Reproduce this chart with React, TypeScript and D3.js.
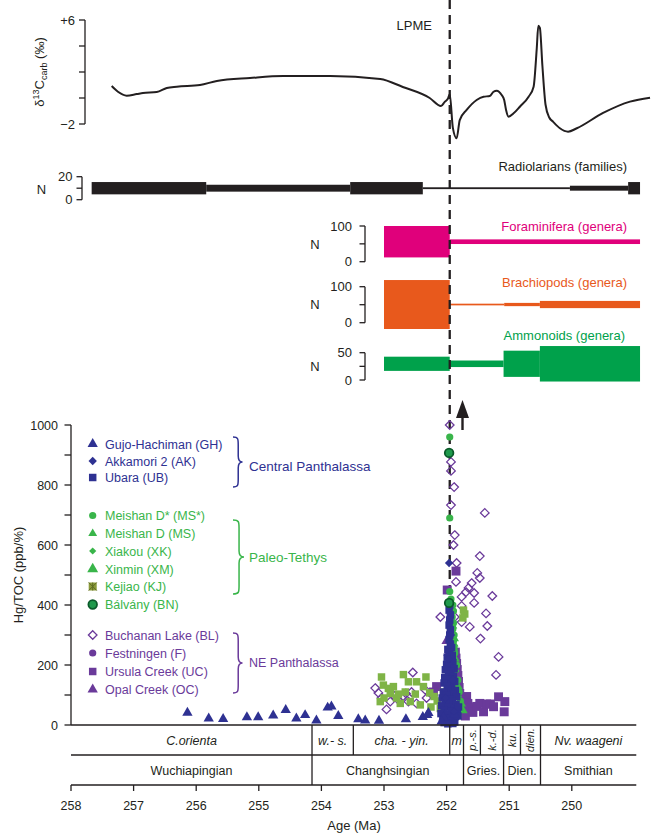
import React from 'react';
import * as d3 from 'd3';

const FONT = "'Liberation Sans', Arial, Helvetica, sans-serif";
const INK = '#231f20';
const BLUE = '#2e3192';
const GREEN = '#39b54a';
const PURPLE = '#6a3a9a';
const KJCOL = '#7fb446';
const MAGENTA = '#e0007b';
const ORANGE = '#e8591c';
const AMMON = '#00a14b';

// ---------- top δ13C curve [age, value]
const d13c: [number, number][] = [
  [257.35, 0.92], [257.25, 0.48], [257.11, 0.18], [256.95, 0.3], [256.85, 0.38], [256.63, 0.46], [256.47, 0.77],
  [256.31, 0.87], [255.94, 1.0], [255.67, 1.31], [255.14, 1.54], [254.61, 1.69], [253.86, 1.69], [253.06, 1.46],
  [252.7, 0.85], [252.27, 0.0], [252.09, -0.62], [252.03, -0.3], [251.98, -0.05], [251.95, 0.28], [251.9, -2.3],
  [251.84, -3.1], [251.79, -1.7], [251.68, -0.92], [251.52, -0.15], [251.41, 0.1], [251.31, 0.15], [251.25, 0.48],
  [251.2, 0.56], [251.12, 0.23], [251.08, -0.15], [251.05, -0.92], [251.01, -1.44], [250.93, -1.18], [250.83, -0.67],
  [250.69, 0.1], [250.61, 0.87], [250.56, 3.8], [250.535, 5.55], [250.51, 5.4], [250.47, 2.5], [250.42, -0.5],
  [250.36, -1.5], [250.3, -1.82], [250.19, -2.33], [250.06, -2.59], [249.92, -2.33], [249.5, -1.15], [249.07, -0.28],
  [248.75, 0.02],
];
const d13cTicks = [6, 4, 2, 0, -2];

// ---------- spindle diagrams: boundaries (Ma) and N per segment
const radBounds = [257.67, 255.84, 253.54, 252.38, 250.03, 249.1, 248.91];
const radN = [10.7, 6, 10.7, 1.6, 4.3, 10.7];
const foramBounds = [253.0, 251.95, 248.91];
const foramN = [88, 13];
const brachBounds = [253.0, 251.95, 251.08, 250.51, 248.91];
const brachN = [136, 4.7, 9, 20];
const ammonBounds = [253.0, 251.95, 251.09, 250.51, 248.91];
const ammonN = [26, 12, 48, 65];

// ---------- chronostratigraphy
const zoneNames = ['C.orienta', 'w.- s.', 'cha. - yin.', 'm', 'p.-s.', 'k.-d.', 'ku.', 'dien.', 'Nv. waageni'];
const zoneBounds = [258, 254.15, 253.49, 251.95, 251.73, 251.46, 251.1, 250.82, 250.5, 248.97];
const zoneVertical = [false, false, false, false, true, true, true, true, false];
const stageNames = ['Wuchiapingian', 'Changhsingian', 'Gries.', 'Dien.', 'Smithian'];
const stageBounds = [258, 254.15, 251.73, 251.09, 250.5, 248.97];
const ageTicks = [258, 257, 256, 255, 254, 253, 252, 251, 250];
const hgTicks = [0, 100, 200, 300, 400, 500, 600, 700, 800, 900, 1000];

// ---------- Hg/TOC data [age, value]
const GH: [number, number][] = [
  [256.14, 41], [255.8, 22], [255.57, 20], [255.19, 26], [255.01, 26], [254.77, 32], [254.57, 50], [254.4, 22],
  [254.26, 33], [254.08, 15], [253.9, 58], [253.84, 62], [253.73, 30], [253.41, 19], [253.3, 15], [253.08, 14],
  [252.65, 19], [252.38, 27], [252.31, 33], [252.29, 40], [252.05, 25], [251.87, 35], [252.08, 12],
];
const AK: [number, number][] = [[251.96, 540], [251.93, 300], [251.97, 220], [251.9, 150], [252.02, 90], [251.88, 45]];
const UB: [number, number][] = [
  [251.95, 400], [251.96, 383], [251.94, 367], [251.95, 350], [251.96, 333], [251.94, 317], [251.95, 300],
  [251.96, 285], [251.94, 270], [251.92, 258], [251.98, 252], [251.95, 242], [251.91, 232], [251.99, 226],
  [251.94, 218], [251.9, 208], [252.0, 202], [251.96, 195], [251.88, 188], [252.02, 184], [251.93, 178],
  [251.97, 170], [251.89, 163], [252.03, 158], [251.95, 152], [251.87, 145], [252.04, 140], [251.92, 135],
  [251.99, 128], [251.95, 120], [251.86, 115], [252.05, 110], [251.9, 104], [252.0, 100], [251.84, 94],
  [252.07, 90], [251.95, 86], [251.91, 78], [252.02, 75], [251.85, 68], [252.08, 64], [251.97, 60], [251.88, 54],
  [252.04, 50], [251.93, 46], [251.83, 40], [252.09, 38], [251.99, 34], [251.86, 28], [251.92, 24], [252.01, 22],
  [252.06, 18], [251.95, 14], [251.87, 10], [252.04, 8], [251.9, 5], [251.98, 4], [251.81, 60], [251.82, 30],
];
const MSstar: [number, number][] = [
  [251.95, 960], [251.95, 690], [251.95, 445], [251.93, 420], [251.9, 400], [251.89, 380], [251.91, 360],
  [251.89, 340], [251.9, 320], [251.88, 300], [251.89, 280], [251.88, 260], [251.87, 240], [251.84, 200],
  [251.82, 150], [251.8, 110], [251.78, 80], [251.79, 50], [251.82, 30],
];
const MS: [number, number][] = [[251.9, 330], [251.88, 270], [251.86, 220], [251.76, 70]];
const XK: [number, number][] = [[251.87, 250], [251.85, 180], [251.81, 95]];
const XM: [number, number][] = [[251.89, 290], [251.83, 130], [251.75, 50]];
const KJ: [number, number][] = [
  [253.04, 160], [252.69, 168], [252.61, 144], [252.33, 160], [253.01, 133], [252.93, 122], [252.85, 128],
  [252.77, 103], [252.66, 110], [253.06, 78], [252.58, 78], [252.42, 67], [252.48, 144], [252.37, 128],
  [252.27, 107], [252.9, 105], [252.74, 72], [252.5, 103], [253.0, 90], [252.8, 90], [252.2, 95], [252.15, 80],
  [252.05, 110], [252.25, 60], [252.1, 55], [251.73, 383], [251.71, 370], [251.74, 357],
];
const BN: [number, number][] = [[251.96, 907], [251.96, 407]];
const BL: [number, number][] = [
  [251.95, 1000], [251.93, 877], [251.93, 847], [251.88, 793], [251.93, 733], [251.39, 707], [251.87, 633],
  [251.89, 600], [251.47, 563], [251.84, 540], [251.51, 507], [251.47, 490], [251.85, 477], [251.6, 473],
  [251.65, 457], [251.69, 443], [251.56, 440], [251.27, 430], [251.76, 427], [251.56, 407], [251.76, 397],
  [251.37, 372], [252.1, 360], [251.87, 360], [251.76, 343], [251.63, 327], [251.35, 330], [251.46, 288],
  [251.17, 227], [251.21, 167],
  [252.54, 175], [253.14, 123], [253.09, 107], [253.04, 90], [252.96, 52], [252.77, 83], [252.65, 105],
  [252.56, 110], [252.61, 78], [252.48, 72], [252.34, 117], [252.32, 90], [252.9, 78], [252.85, 100], [252.7, 95],
];
const F: [number, number][] = [[251.83, 160], [251.8, 120], [251.77, 95]];
const UC: [number, number][] = [
  [251.85, 513], [251.99, 450], [251.86, 243], [251.85, 223], [251.84, 205], [251.83, 185], [251.82, 165],
  [251.81, 145], [251.8, 125], [251.79, 105], [251.77, 85], [251.75, 65], [251.72, 45], [251.7, 30],
  [251.68, 95], [251.66, 72], [251.62, 58], [251.58, 42], [251.52, 62], [251.47, 72], [251.41, 44],
  [251.36, 70], [251.3, 70], [251.25, 61], [251.17, 94], [251.07, 78], [251.08, 44], [252.16, 128], [252.21, 110],
];
const OC: [number, number][] = [[252.0, 280], [251.97, 240]];

type Shape = 'tri' | 'triS' | 'triL' | 'dia' | 'diaS' | 'sq' | 'sqL' | 'circ' | 'open' | 'kj' | 'bn';

function diamond(r: number) {
  return `M0,${-r}L${r},0L0,${r}L${-r},0Z`;
}
const triPath = (s: number) => d3.symbol().type(d3.symbolTriangle).size(s)() as string;
const sqPath = (s: number) => d3.symbol().type(d3.symbolSquare).size(s)() as string;

function Marker({ shape, cx, cy, color }: { shape: Shape; cx: number; cy: number; color: string }) {
  const t = `translate(${cx},${cy})`;
  switch (shape) {
    case 'tri': return <path transform={t} d={triPath(46)} fill={color} />;
    case 'triS': return <path transform={t} d={triPath(34)} fill={color} />;
    case 'triL': return <path transform={t} d={triPath(52)} fill={color} />;
    case 'dia': return <path transform={t} d={diamond(4.2)} fill={color} />;
    case 'diaS': return <path transform={t} d={diamond(3.6)} fill={color} />;
    case 'sq': return <path transform={t} d={sqPath(56)} fill={color} />;
    case 'sqL': return <path transform={t} d={sqPath(80)} fill={color} />;
    case 'circ': return <circle cx={cx} cy={cy} r={3.6} fill={color} />;
    case 'open': return <path transform={t} d={diamond(4.3)} fill="none" stroke={color} strokeWidth={1.3} />;
    case 'kj': return (
      <g transform={t}>
        <rect x={-4} y={-4} width={8} height={8} fill="#8b9a3a" />
        <path d="M-4,-4L4,4M4,-4L-4,4M0,-4V4" stroke="#5d6b22" strokeWidth={1} />
      </g>
    );
    case 'bn': return <circle cx={cx} cy={cy} r={4.3} fill="#1f9a4c" stroke="#0b5a2a" strokeWidth={1.8} />;
  }
  return null;
}

const legendItems: { label: string; color: string; shape: Shape; y: number }[] = [
  { label: 'Gujo-Hachiman (GH)', color: BLUE, shape: 'tri', y: 444 },
  { label: 'Akkamori 2 (AK)', color: BLUE, shape: 'dia', y: 461 },
  { label: 'Ubara (UB)', color: BLUE, shape: 'sq', y: 477.5 },
  { label: 'Meishan D* (MS*)', color: GREEN, shape: 'circ', y: 515.5 },
  { label: 'Meishan D (MS)', color: GREEN, shape: 'triS', y: 533.5 },
  { label: 'Xiakou (XK)', color: GREEN, shape: 'diaS', y: 551 },
  { label: 'Xinmin (XM)', color: GREEN, shape: 'triL', y: 569 },
  { label: 'Kejiao (KJ)', color: GREEN, shape: 'kj', y: 586.5 },
  { label: 'Bálvány (BN)', color: GREEN, shape: 'bn', y: 604.5 },
  { label: 'Buchanan Lake (BL)', color: PURPLE, shape: 'open', y: 635 },
  { label: 'Festningen (F)', color: PURPLE, shape: 'circ', y: 653 },
  { label: 'Ursula Creek (UC)', color: PURPLE, shape: 'sq', y: 671.5 },
  { label: 'Opal Creek (OC)', color: PURPLE, shape: 'tri', y: 689.5 },
];

function brace(x: number, y0: number, y1: number, w: number) {
  const m = (y0 + y1) / 2;
  const xm = x + w * 0.55;
  return `M${x},${y0} C${xm},${y0} ${xm},${y0 + 2} ${xm},${y0 + 8} L${xm},${m - 6} C${xm},${m - 1} ${x + w * 0.75},${m} ${x + w},${m}` +
    ` C${x + w * 0.75},${m} ${xm},${m + 1} ${xm},${m + 6} L${xm},${y1 - 8} C${xm},${y1 - 2} ${xm},${y1} ${x},${y1}`;
}

export default function App() {
  const x = d3.scaleLinear().domain([258, 249]).range([71, 634.4]);
  const yC = d3.scaleLinear().domain([-2, 6]).range([124, 20]);
  const yHg = d3.scaleLinear().domain([0, 1000]).range([725, 425]);
  const yRad = d3.scaleLinear().domain([0, 20]).range([199.7, 176.7]);
  const yFor = d3.scaleLinear().domain([0, 100]).range([261.7, 226]);
  const yBra = d3.scaleLinear().domain([0, 100]).range([322.7, 286.7]);
  const yAmm = d3.scaleLinear().domain([0, 50]).range([380, 352.7]);

  const line = d3.line<[number, number]>().x(d => x(d[0])).y(d => yC(d[1])).curve(d3.curveMonotoneX);
  const lpmeX = x(251.95);
  const axisEnd = x(248.97);

  const spindle = (bounds: number[], ns: number[], ys: d3.ScaleLinear<number, number>, center: number, color: string) =>
    ns.map((n, i) => (
      <rect key={i} x={x(bounds[i])} width={x(bounds[i + 1]) - x(bounds[i])}
        y={ys(center + n / 2)} height={ys(center - n / 2) - ys(center + n / 2)} fill={color} />
    ));

  const smallAxis = (ax: number, ys: d3.ScaleLinear<number, number>, ticks: number[], labels: number[], labelX: number) => (
    <g>
      <line x1={ax} x2={ax} y1={ys(ticks[0])} y2={ys(ticks[ticks.length - 1])} stroke={INK} strokeWidth={1.3} />
      {ticks.map(t => <line key={t} x1={ax - 5.5} x2={ax} y1={ys(t)} y2={ys(t)} stroke={INK} strokeWidth={1.3} />)}
      {labels.map(t => <text key={t} x={labelX} y={ys(t) + 4.5} textAnchor="end" fontSize={13} fill={INK}>{t}</text>)}
    </g>
  );

  const pts = (data: [number, number][], shape: Shape, color: string, key: string) =>
    data.map((d, i) => <Marker key={key + i} shape={shape} cx={x(d[0])} cy={yHg(d[1])} color={color} />);

  return (
    <svg width={652} height={834} style={{ position: 'absolute', left: 0, top: 0, background: '#fff' }} fontFamily={FONT}>
      {/* δ13C panel */}
      <line x1={85} x2={85} y1={yC(6)} y2={yC(-2)} stroke={INK} strokeWidth={1.3} />
      {d13cTicks.map(t => <line key={t} x1={79} x2={85} y1={yC(t)} y2={yC(t)} stroke={INK} strokeWidth={1.3} />)}
      <text x={75} y={yC(6) + 4.5} textAnchor="end" fontSize={13} fill={INK}>+6</text>
      <text x={75} y={yC(-2) + 4.5} textAnchor="end" fontSize={13} fill={INK}>−2</text>
      <text transform="translate(44,72) rotate(-90)" textAnchor="middle" fontSize={13} fill={INK}>
        δ<tspan dy={-5} fontSize={9}>13</tspan><tspan dy={5}>C</tspan><tspan dy={3} fontSize={9}>carb</tspan><tspan dy={-3}> (‰)</tspan>
      </text>
      <path d={line(d13c) as string} fill="none" stroke={INK} strokeWidth={2} />
      <text x={432} y={30} textAnchor="end" fontSize={13} fill={INK}>LPME</text>

      {/* Radiolarians */}
      <text x={41.5} y={193.5} textAnchor="middle" fontSize={13} fill={INK}>N</text>
      {smallAxis(82, yRad, [0, 10, 20], [0, 20], 72.5)}
      {spindle(radBounds, radN, yRad, 10, INK)}
      <text x={627} y={171} textAnchor="end" fontSize={13} fill={INK}>Radiolarians (families)</text>

      {/* Foraminifera */}
      <text x={315} y={248.5} textAnchor="middle" fontSize={13} fill={INK}>N</text>
      {smallAxis(365, yFor, [0, 50, 100], [0, 100], 352)}
      {spindle(foramBounds, foramN, yFor, 56, MAGENTA)}
      <text x={627} y={230.5} textAnchor="end" fontSize={13} fill={MAGENTA}>Foraminifera (genera)</text>

      {/* Brachiopods */}
      <text x={315} y={308.5} textAnchor="middle" fontSize={13} fill={INK}>N</text>
      {smallAxis(365, yBra, [0, 50, 100], [0, 100], 352)}
      {spindle(brachBounds, brachN, yBra, 50.5, ORANGE)}
      <text x={627} y={287} textAnchor="end" fontSize={13} fill={ORANGE}>Brachiopods (genera)</text>

      {/* Ammonoids */}
      <text x={315} y={370.5} textAnchor="middle" fontSize={13} fill={INK}>N</text>
      {smallAxis(365, yAmm, [0, 25, 50], [0, 50], 352)}
      {spindle(ammonBounds, ammonN, yAmm, 29.7, AMMON)}
      <text x={625} y={339.5} textAnchor="end" fontSize={13} fill={AMMON}>Ammonoids (genera)</text>

      {/* LPME dashed line */}
      <line x1={lpmeX} x2={lpmeX} y1={0} y2={715} stroke={INK} strokeWidth={2.3} strokeDasharray="9,6" />
      {/* arrow */}
      <line x1={462.5} x2={462.5} y1={430} y2={412} stroke={INK} strokeWidth={2.4} />
      <path d="M462.5,400 L469,418 L456,418 Z" fill={INK} />

      {/* scatter axis */}
      <line x1={71} x2={71} y1={yHg(1000)} y2={yHg(0)} stroke={INK} strokeWidth={1.3} />
      {hgTicks.map(t => <line key={t} x1={64.5} x2={71} y1={yHg(t)} y2={yHg(t)} stroke={INK} strokeWidth={1.3} />)}
      {hgTicks.filter(t => t % 200 === 0).map(t => (
        <text key={t} x={58} y={yHg(t) + 4.5} textAnchor="end" fontSize={12.5} fill={INK}>{t}</text>
      ))}
      <text transform="translate(23,575) rotate(-90)" textAnchor="middle" fontSize={13} fill={INK}>Hg/TOC (ppb/%)</text>

      {/* legend */}
      {legendItems.map(it => (
        <g key={it.label}>
          <Marker shape={it.shape} cx={92.7} cy={it.y} color={it.color} />
          <text x={105} y={it.y + 4.5} fontSize={12.5} fill={it.color}>{it.label}</text>
        </g>
      ))}
      <path d={brace(233, 437, 487, 9.5)} fill="none" stroke={BLUE} strokeWidth={1.5} />
      <path d={brace(233, 520, 594, 11)} fill="none" stroke={GREEN} strokeWidth={1.5} />
      <path d={brace(233, 633, 693, 9.5)} fill="none" stroke={PURPLE} strokeWidth={1.5} />
      <text x={249} y={466 + 4.5} fontSize={13.5} fill={BLUE}>Central Panthalassa</text>
      <text x={249} y={557 + 4.5} fontSize={13.5} fill={GREEN}>Paleo-Tethys</text>
      <text x={249} y={662 + 4.5} fontSize={12.5} fill={PURPLE}>NE Panthalassa</text>

      {/* data points */}
      {pts(UC, 'sqL', PURPLE, 'uc')}
      {pts(F, 'circ', PURPLE, 'f')}
      {pts(OC, 'tri', PURPLE, 'oc')}
      {pts(BL, 'open', PURPLE, 'bl')}
      {pts(KJ, 'sq', KJCOL, 'kj')}
      {pts(MS, 'triS', GREEN, 'ms')}
      {pts(XK, 'diaS', GREEN, 'xk')}
      {pts(XM, 'triL', GREEN, 'xm')}
      {pts(MSstar, 'circ', GREEN, 'mss')}
      {pts(UB, 'sq', BLUE, 'ub')}
      {pts(GH, 'tri', BLUE, 'gh')}
      {pts(AK, 'dia', BLUE, 'ak')}
      {pts(BN, 'bn', GREEN, 'bn')}

      {/* chronostratigraphic table */}
      {[725, 755, 785].map(yy => <line key={yy} x1={71} x2={axisEnd} y1={yy} y2={yy} stroke={INK} strokeWidth={1.3} />)}
      {zoneBounds.slice(1, -1).map((b, i) => (
        <line key={'zb' + i} x1={x(b)} x2={x(b)} y1={725} y2={755} stroke={INK} strokeWidth={1.3} />
      ))}
      {stageBounds.slice(1, -1).map((b, i) => (
        <line key={'sb' + i} x1={x(b)} x2={x(b)} y1={755} y2={785} stroke={INK} strokeWidth={1.3} />
      ))}
      {zoneNames.map((n, i) => {
        const cx = (x(zoneBounds[i]) + x(zoneBounds[i + 1])) / 2;
        return zoneVertical[i] ? (
          <text key={n} transform={`translate(${cx + 4},740) rotate(-90)`} textAnchor="middle" fontSize={11}
            fontStyle="italic" fill={INK}>{n}</text>
        ) : (
          <text key={n} x={cx} y={744.5} textAnchor="middle" fontSize={12.5} fontStyle="italic" fill={INK}>{n}</text>
        );
      })}
      {stageNames.map((n, i) => {
        const cx = (x(stageBounds[i]) + x(stageBounds[i + 1])) / 2;
        return <text key={n} x={cx} y={774.5} textAnchor="middle" fontSize={12.5} fill={INK}>{n}</text>;
      })}
      {ageTicks.map(t => (
        <g key={t}>
          <line x1={x(t)} x2={x(t)} y1={785} y2={791} stroke={INK} strokeWidth={1.3} />
          <text x={x(t)} y={810} textAnchor="middle" fontSize={12.5} fill={INK}>{t}</text>
        </g>
      ))}
      <text x={354} y={830} textAnchor="middle" fontSize={13} fill={INK}>Age (Ma)</text>
    </svg>
  );
}
